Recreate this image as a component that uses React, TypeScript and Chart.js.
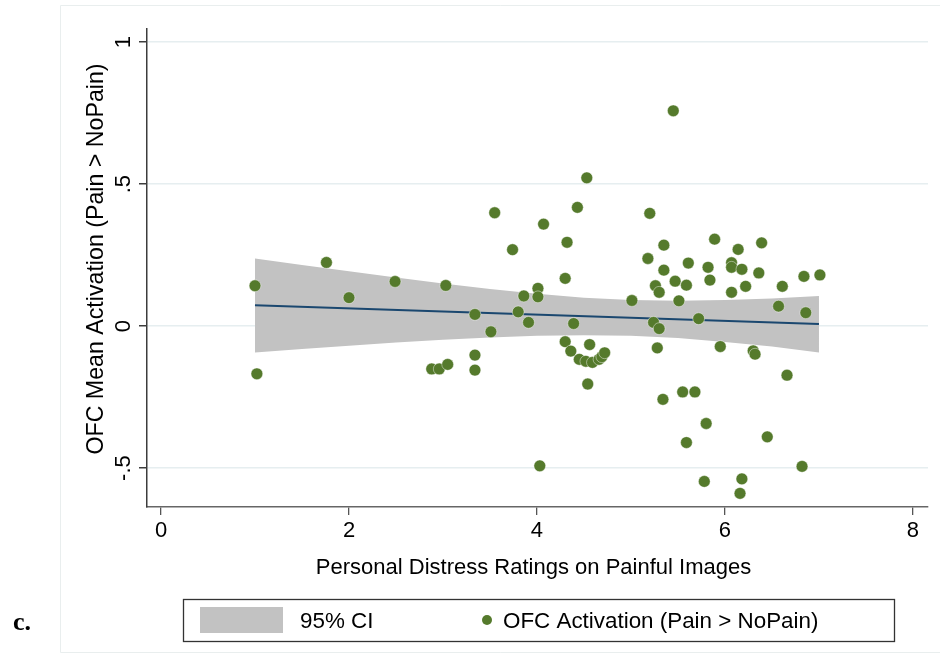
import React, { useEffect, useRef } from 'react';
import { Chart, registerables } from 'chart.js';

Chart.register(...registerables);

// ---- data ----
const distress = [
  1.0, 1.02, 1.76, 2.0, 2.49, 2.88, 2.96, 3.03, 3.05, 3.34,
  3.34, 3.34, 3.51, 3.55, 3.74, 3.8, 3.86, 3.91, 4.01, 4.01,
  4.03, 4.07, 4.3, 4.32, 4.3, 4.36, 4.39, 4.43, 4.45, 4.52,
  4.53, 4.54, 4.56, 4.59, 4.66, 4.69, 4.72, 5.01, 5.18, 5.2,
  5.24, 5.26, 5.28, 5.3, 5.3, 5.34, 5.35, 5.35, 5.45, 5.47,
  5.51, 5.55, 5.59, 5.59, 5.61, 5.68, 5.72, 5.78, 5.8, 5.82,
  5.84, 5.89, 5.95, 6.07, 6.07, 6.07, 6.14, 6.16, 6.18, 6.18,
  6.22, 6.3, 6.32, 6.36, 6.39, 6.45, 6.57, 6.61, 6.66, 6.82,
  6.84, 6.86, 7.01,
];
const ofcActivation = [
  0.142, -0.168, 0.224, 0.1, 0.157, -0.151, -0.151, 0.143, -0.135, 0.041,
  -0.102, -0.155, -0.02, 0.399, 0.269, 0.05, 0.106, 0.013, 0.133, 0.103,
  -0.492, 0.359, 0.168, 0.295, -0.055, -0.088, 0.009, 0.418, -0.117, -0.124,
  0.522, -0.204, -0.065, -0.128, -0.117, -0.108, -0.094, 0.09, 0.238, 0.397,
  0.013, 0.142, -0.077, 0.119, -0.009, -0.258, 0.285, 0.197, 0.758, 0.158,
  0.089, -0.232, 0.144, -0.41, 0.222, -0.232, 0.026, -0.547, -0.343, 0.207,
  0.162, 0.306, -0.072, 0.223, 0.207, 0.119, 0.27, -0.589, -0.538, 0.2,
  0.14, -0.087, -0.099, 0.187, 0.293, -0.39, 0.07, 0.14, -0.173, -0.494,
  0.175, 0.047, 0.18,
];
const fitX = [1, 7];
const fitY = [0.073, 0.007];
const ciX = [1, 1.5, 2, 2.5, 3, 3.5, 4, 4.5, 5, 5.5, 6, 6.5, 7];
const ciUpper = [0.238, 0.215, 0.193, 0.171, 0.15, 0.131, 0.114, 0.1, 0.092, 0.089, 0.092, 0.097, 0.106];
const ciLower = [-0.093, -0.081, -0.069, -0.058, -0.048, -0.04, -0.034, -0.032, -0.034, -0.042, -0.056, -0.072, -0.093];

const xTicks = [0, 2, 4, 6, 8];
const xTickLabels = ['0', '2', '4', '6', '8'];
const yTicks = [-0.5, 0, 0.5, 1];
const yTickLabels = ['-.5', '0', '.5', '1'];

const xTitle = 'Personal Distress Ratings on Painful Images';
const yTitle = 'OFC Mean Activation (Pain > NoPain)';
const legendCI = '95% CI';
const legendPoints = 'OFC Activation (Pain > NoPain)';
const panelLabel = 'c.';

// ---- styles ----
const FONT = '"Liberation Sans", Arial, Helvetica, sans-serif';
const GREEN = '#557a2c';
const NAVY = '#1a476f';
const BAND = '#c2c2c2';
const GRID = '#e6eef0';
const AXIS = '#3c3c3c';

const decorPlugin = {
  id: 'decor',
  beforeDraw(chart: any) {
    const ctx = chart.ctx;
    ctx.save();
    ctx.fillStyle = '#ffffff';
    ctx.fillRect(0, 0, chart.width, chart.height);
    ctx.strokeStyle = '#e9eeee';
    ctx.lineWidth = 1;
    ctx.beginPath();
    ctx.moveTo(940, 5.5);
    ctx.lineTo(60.5, 5.5);
    ctx.lineTo(60.5, 652.5);
    ctx.lineTo(940, 652.5);
    ctx.stroke();
    ctx.restore();
  },
  afterDraw(chart: any) {
    const ctx = chart.ctx;
    const ys = chart.scales.y;
    const xs = chart.scales.x;
    ctx.save();
    ctx.fillStyle = '#000';
    ctx.font = `22px ${FONT}`;
    ctx.textAlign = 'center';
    ctx.textBaseline = 'middle';
    yTicks.forEach((v, i) => {
      const py = ys.getPixelForValue(v);
      ctx.save();
      ctx.translate(124, py);
      ctx.rotate(-Math.PI / 2);
      ctx.fillText(yTickLabels[i], 0, 0);
      ctx.restore();
    });
    // y title
    ctx.save();
    ctx.font = `23.2px ${FONT}`;
    ctx.translate(97, 259);
    ctx.rotate(-Math.PI / 2);
    ctx.fillText(yTitle, 0, 0);
    ctx.restore();
    // x title
    ctx.textBaseline = 'alphabetic';
    ctx.fillText(xTitle, (xs.left + xs.right) / 2 - 4, 574);

    // legend
    ctx.strokeStyle = '#333';
    ctx.lineWidth = 1.3;
    ctx.strokeRect(183.5, 599.5, 711, 42);
    ctx.fillStyle = BAND;
    ctx.fillRect(200, 607, 83, 26);
    ctx.fillStyle = '#000';
    ctx.textAlign = 'left';
    ctx.font = `22.4px ${FONT}`;
    ctx.fillText(legendCI, 300, 628);
    ctx.fillStyle = GREEN;
    ctx.beginPath();
    ctx.arc(487, 620, 5, 0, Math.PI * 2);
    ctx.fill();
    ctx.fillStyle = '#000';
    ctx.fillText(legendPoints, 503, 628);

    // panel label
    ctx.font = `bold 26px "Liberation Serif", "Times New Roman", serif`;
    ctx.fillText(panelLabel, 13, 630);
    ctx.restore();
  },
};

export default function App() {
  const canvasRef = useRef<HTMLCanvasElement | null>(null);

  useEffect(() => {
    if (!canvasRef.current) return;
    const points = distress.map((x, i) => ({ x, y: ofcActivation[i] }));
    const fit = fitX.map((x, i) => ({ x, y: fitY[i] }));
    const upper = ciX.map((x, i) => ({ x, y: ciUpper[i] }));
    const lower = ciX.map((x, i) => ({ x, y: ciLower[i] }));

    const chart = new Chart(canvasRef.current, {
      type: 'scatter',
      data: {
        datasets: [
          {
            type: 'scatter',
            label: legendPoints,
            data: points,
            backgroundColor: GREEN,
            borderColor: 'rgba(255,255,255,0.55)',
            borderWidth: 0.8,
            pointRadius: 5.9,
            order: 0,
          } as any,
          {
            type: 'line',
            label: 'Fitted values',
            data: fit,
            borderColor: NAVY,
            borderWidth: 2,
            pointRadius: 0,
            fill: false,
            order: 1,
          },
          {
            type: 'line',
            label: legendCI,
            data: upper,
            borderWidth: 0,
            borderColor: 'rgba(0,0,0,0)',
            backgroundColor: BAND,
            pointRadius: 0,
            fill: '+1',
            order: 2,
          },
          {
            type: 'line',
            label: 'lower',
            data: lower,
            borderWidth: 0,
            borderColor: 'rgba(0,0,0,0)',
            pointRadius: 0,
            fill: false,
            order: 3,
          },
        ],
      },
      options: {
        animation: false,
        responsive: false,
        events: [],
        layout: { padding: { left: 0, top: 29, right: 12, bottom: 0 } },
        plugins: {
          legend: { display: false },
          tooltip: { enabled: false },
          title: { display: false },
        },
        scales: {
          x: {
            type: 'linear',
            min: -0.149,
            max: 8.16,
            afterBuildTicks: (s: any) => {
              s.ticks = xTicks.map((v) => ({ value: v }));
            },
            afterFit: (s: any) => {
              s.height = 151;
            },
            ticks: {
              callback: (v: any) => {
                const i = xTicks.indexOf(Number(v));
                return i >= 0 ? xTickLabels[i] : '';
              },
              font: { family: FONT, size: 22 },
              color: '#000',
              padding: 3,
              maxRotation: 0,
              minRotation: 0,
            },
            grid: {
              drawOnChartArea: false,
              tickColor: '#555',
              tickLength: 8,
              lineWidth: 1.3,
            },
            border: { color: '#666', width: 1.5 },
          },
          y: {
            type: 'linear',
            min: -0.637,
            max: 1.046,
            afterBuildTicks: (s: any) => {
              s.ticks = yTicks.map((v) => ({ value: v }));
            },
            afterFit: (s: any) => {
              s.width = 147;
            },
            ticks: { display: false },
            grid: {
              color: GRID,
              lineWidth: 1.5,
              tickColor: AXIS,
              tickLength: 8,
            },
            border: { color: AXIS, width: 1.5 },
          },
        },
      },
      plugins: [decorPlugin],
    });
    return () => chart.destroy();
  }, []);

  return (
    <div style={{ position: 'absolute', left: 0, top: 0, width: 940, height: 658 }}>
      <canvas ref={canvasRef} width={940} height={658} style={{ width: 940, height: 658 }} />
    </div>
  );
}
